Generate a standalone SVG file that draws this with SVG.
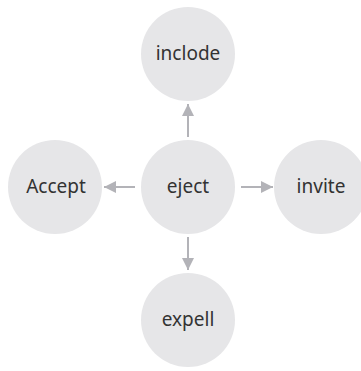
<svg xmlns="http://www.w3.org/2000/svg" width="361" height="371" viewBox="0 0 361 371">
<defs>
<style>
.n{fill:#e6e6e8}
.t{font-family:"Noto Sans","DejaVu Sans",sans-serif;font-size:19px;fill:#333;text-anchor:middle}
.e{stroke:#b3b3b8;stroke-width:2;fill:none}
</style>
<marker id="ah" viewBox="0 0 12 12" refX="12" refY="6" markerWidth="12" markerHeight="12" markerUnits="userSpaceOnUse" orient="auto">
<path d="M0,0L12,6L0,12Z" fill="#b3b3b8"/>
</marker>
</defs>
<rect width="361" height="371" fill="#fff"/>
<g id="edges">
<line class="e" x1="188" y1="137" x2="188" y2="104" marker-end="url(#ah)"/>
<line class="e" x1="241" y1="187" x2="273" y2="187" marker-end="url(#ah)"/>
<line class="e" x1="135" y1="187" x2="104" y2="187" marker-end="url(#ah)"/>
<line class="e" x1="188" y1="237" x2="188" y2="270" marker-end="url(#ah)"/>
</g>
<g id="eject"><circle class="n" cx="188" cy="187" r="47"/><text class="t" x="188" y="193">eject</text></g>
<g id="inclode"><circle class="n" cx="188" cy="54" r="47"/><text class="t" x="188" y="60">inclode</text></g>
<g id="accept"><circle class="n" cx="55" cy="187" r="47"/><text class="t" x="56" y="193">Accept</text></g>
<g id="invite"><circle class="n" cx="321" cy="187" r="47"/><text class="t" x="321" y="193">invite</text></g>
<g id="expell"><circle class="n" cx="188" cy="320" r="47"/><text class="t" x="188" y="326">expell</text></g>
</svg>
